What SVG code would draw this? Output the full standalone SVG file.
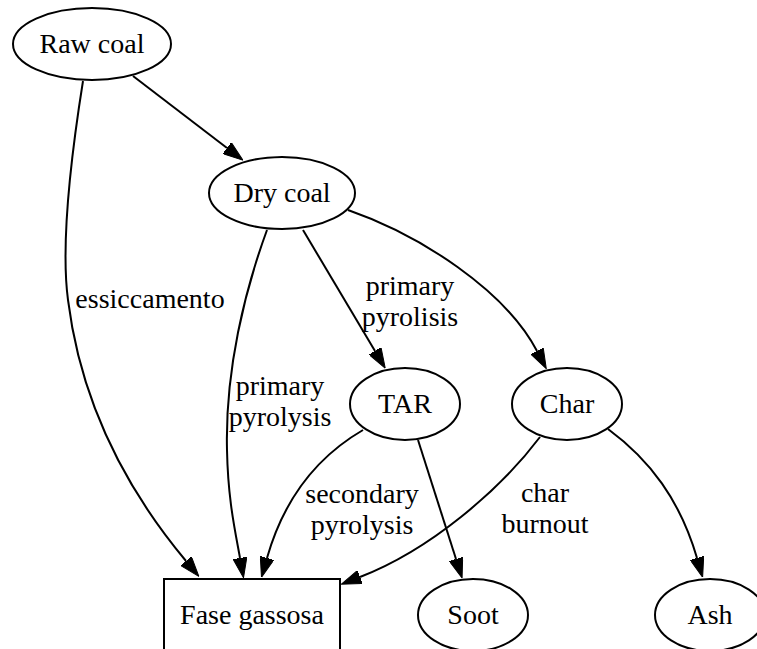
<svg xmlns="http://www.w3.org/2000/svg" width="757" height="649" viewBox="0 0 757 649">
<defs>
<style>
.n{fill:none;stroke:#000;stroke-width:2}
.e{fill:none;stroke:#000;stroke-width:2;marker-end:url(#ah)}
text{font-family:"Liberation Serif","Times New Roman",serif;font-size:28px;fill:#000;text-anchor:middle}
</style>
<marker id="ah" viewBox="0 0 20 14" markerWidth="20" markerHeight="14" markerUnits="userSpaceOnUse" refX="0" refY="7" orient="auto">
<path d="M0,0 L20,7 L0,14 z" fill="#000" stroke="#000" stroke-width="1"/>
</marker>
</defs>
<rect width="757" height="649" fill="#fff"/>
<g id="edges">
<path class="e" d="M133,76 L227,148"/>
<path class="e" d="M83,81 C72,150 60,240 68,300 C78,380 110,470 186,561"/>
<path class="e" d="M267,230 C245,290 225,370 227,450 C228,500 235,530 240,558"/>
<path class="e" d="M303,230 L375,351"/>
<path class="e" d="M348,210 C420,235 505,290 537,351"/>
<path class="e" d="M363,430 C320,455 285,495 267,558"/>
<path class="e" d="M418,440 L456,559"/>
<path class="e" d="M540,437 C500,490 430,550 360,577"/>
<path class="e" d="M608,429 C650,460 680,500 697,558"/>
<text x="150" y="308">essiccamento</text>
<text x="280" y="395">primary</text>
<text x="280" y="426">pyrolysis</text>
<text x="410" y="295">primary</text>
<text x="410" y="326">pyrolisis</text>
<text x="362" y="503">secondary</text>
<text x="362" y="534">pyrolysis</text>
<text x="545" y="502">char</text>
<text x="545" y="533">burnout</text>
</g>
<g id="raw_coal"><ellipse class="n" cx="92" cy="44" rx="79" ry="36"/><text x="92" y="53">Raw coal</text></g>
<g id="dry_coal"><ellipse class="n" cx="282" cy="193" rx="73" ry="36"/><text x="282" y="202">Dry coal</text></g>
<g id="tar"><ellipse class="n" cx="405" cy="404" rx="55" ry="36"/><text x="405" y="413">TAR</text></g>
<g id="char"><ellipse class="n" cx="567" cy="404" rx="55" ry="36"/><text x="567" y="413">Char</text></g>
<g id="fase_gassosa"><rect class="n" x="164" y="579" width="176" height="72"/><text x="252" y="624">Fase gassosa</text></g>
<g id="soot"><ellipse class="n" cx="473" cy="615" rx="55" ry="36"/><text x="473" y="624">Soot</text></g>
<g id="ash"><ellipse class="n" cx="710" cy="615" rx="55" ry="36"/><text x="710" y="624">Ash</text></g>
</svg>
